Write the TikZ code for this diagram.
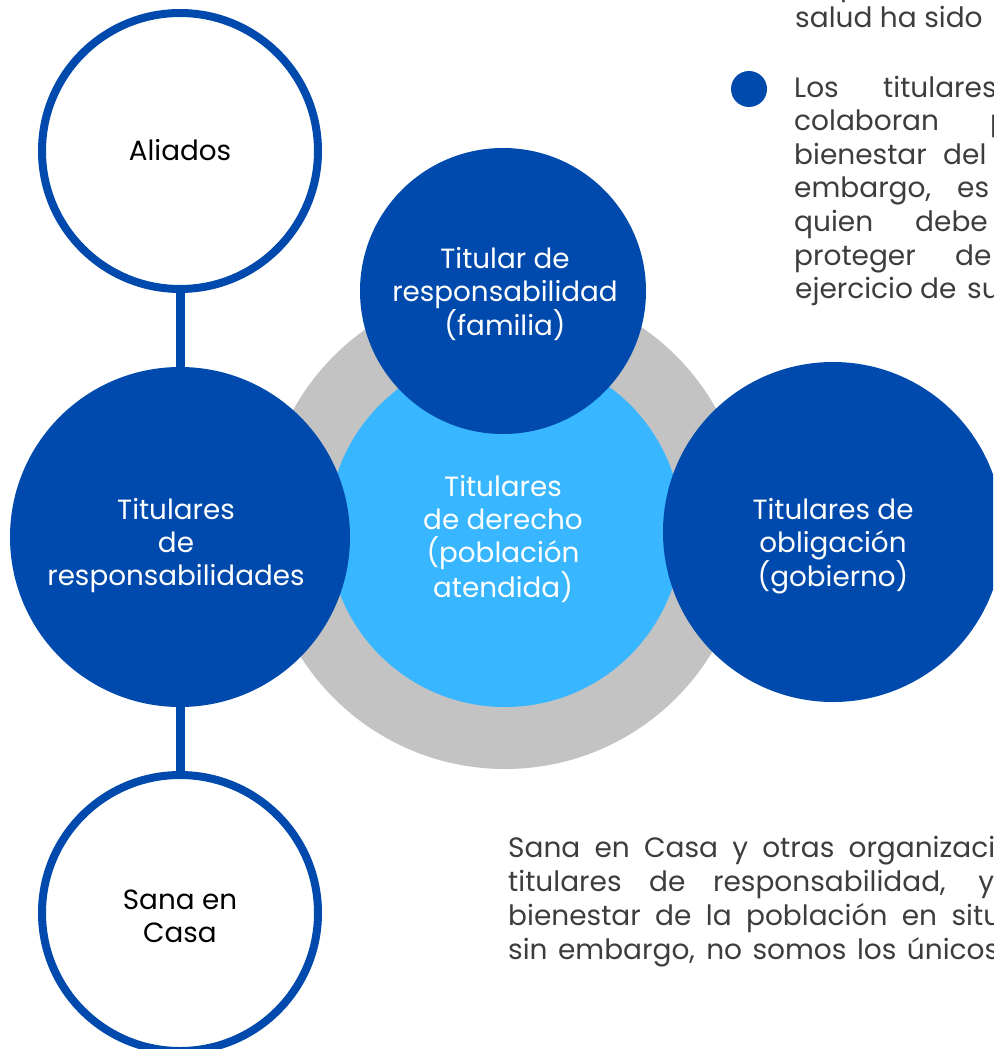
\documentclass[tikz,border=0pt]{standalone}
\usepackage{fontspec}
\setmainfont{Poppins}
\definecolor{dblue}{HTML}{004AAD}
\definecolor{lblue}{HTML}{38B6FF}
\definecolor{ringgrey}{HTML}{C2C3C2}
\definecolor{bodytext}{HTML}{3D3D3D}
\begin{document}
\begin{tikzpicture}[x=1pt,y=-1pt,
  ringnode/.style={circle, draw=dblue, line width=8pt, fill=white, minimum size=276pt, inner sep=0pt},
  disc/.style={circle, fill=dblue, inner sep=0pt},
  lbl/.style={align=center, font=\fontsize{27.8}{33}\selectfont, inner sep=0pt},
  body/.style={anchor=base west, inner sep=0pt, text=bodytext, font=\fontsize{28}{33.6}\selectfont},
  link/.style={draw=dblue, line width=9pt}]
\useasboundingbox (0,0) rectangle (993,1049);
\clip (0,0) rectangle (993,1049);
% central circles
\node[circle, fill=ringgrey, minimum size=484pt, inner sep=0pt] (ring) at (505,527) {};
\node[circle, fill=lblue, minimum size=354pt, inner sep=0pt] (derecho) at (505,530) {};
\node[disc, minimum size=286pt] (familia) at (503,291) {};
\node[disc, minimum size=340pt] (resp) at (180,537) {};
\node[disc, minimum size=340pt] (gob) at (833,532) {};
\node[ringnode] (aliados) at (180,151) {};
\node[ringnode] (sana) at (180,913) {};
\draw[link] (aliados) -- (resp);
\draw[link] (resp) -- (sana);
% labels
\node[lbl, text=black] (t-aliados) at (180,150) {Aliados};
\node[lbl, text=white] (t-familia) at (505,294) {Titular de\\responsabilidad\\(familia)};
\node[lbl, text=white] (t-derecho) at (503,539) {Titulares\\de derecho\\(población\\atendida)};
\node[lbl, text=white] (t-resp) at (176,546) {Titulares\\de\\responsabilidades};
\node[lbl, text=white] (t-gob) at (833,546) {Titulares de\\obligación\\(gobierno)};
\node[lbl, text=black] (t-sana) at (180,916) {Sana en\\Casa};
% upper right text
\node[body] (p0) at (840,-4) {p};
\node[body] (s1) at (795,28) {salud ha sido};
\node[circle, fill=dblue, minimum size=36pt, inner sep=0pt] (bullet) at (749,89) {};
\node[body] (l1a) at (794,97) {Los};
\node[body] (l1b) at (883,97) {titulares};
\node[body] (l2a) at (794,130.6) {colaboran};
\node[body] (l2b) at (990,130.6) {p};
\node[body] (l3a) at (794,164.2) {bienestar};
\node[body] (l3b) at (943,164.2) {del};
\node[body] (l4a) at (794,197.8) {embargo,};
\node[body] (l4b) at (957,197.8) {es};
\node[body] (l5a) at (794,231.4) {quien};
\node[body] (l5b) at (915,231.4) {debe};
\node[body] (l6a) at (794,265) {proteger};
\node[body] (l6b) at (955,265) {de};
\node[body] (l7a) at (795,298.6) {ejercicio};
\node[body] (l7b) at (920,298.6) {de};
\node[body] (l7c) at (967,298.6) {su};
% lower text
\node[body] (b1) at (508,857) {\makebox[487pt][s]{Sana en Casa y otras organizaci}};
\node[body] (b2) at (508,891) {\makebox[486pt][s]{titulares de responsabilidad, y}};
\node[body] (b3) at (508,925) {\makebox[493pt][s]{bienestar de la población en situ}};
\node[body] (b4) at (508,959) {\makebox[491pt][s]{sin embargo, no somos los únicos}};
\end{tikzpicture}
\end{document}
